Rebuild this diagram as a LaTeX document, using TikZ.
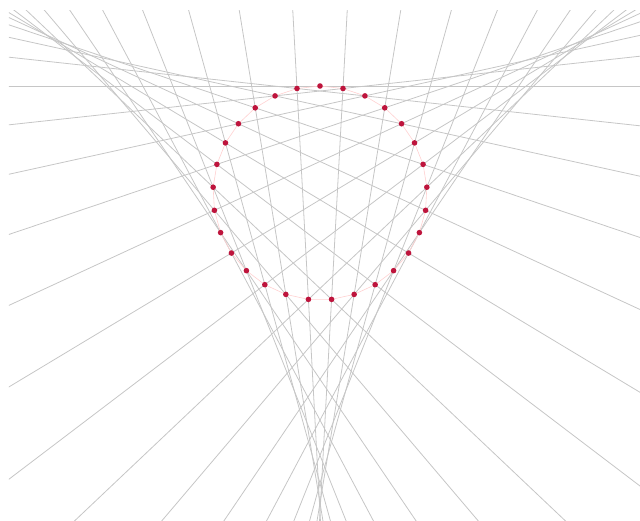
\documentclass[tikz,border=0pt]{standalone}
\usepackage{tikz}

\definecolor{dotred}{RGB}{190,20,60}
\tikzset{
  chord/.style={gray!45,line width=0.8pt},
  ring/.style={red!18,line width=0.6pt},
  pin/.style={fill=dotred}
}

\begin{document}
\begin{tikzpicture}[x=1pt,y=1pt]
  \useasboundingbox (-320,193) rectangle (320,-327);
  \clip (-311,183) rectangle (320,-327);
  % tangent lines of the deltoid, one through each point
  \foreach \k in {0,...,28} {
    \pgfmathsetmacro\t{90+\k*360/29}
    \pgfmathsetmacro\a{225-\t/2}
    \coordinate (p\k) at (\t:107);
    \draw[chord] (p\k) ++(\a:900) -- ++(\a:-1800);
  }
  % points on the inscribed circle
  \draw[ring] (p0) \foreach \k in {1,...,28} {-- (p\k)} -- cycle;
  \foreach \k in {0,...,28} \fill[pin] (p\k) circle (2.8);
\end{tikzpicture}
\end{document}
